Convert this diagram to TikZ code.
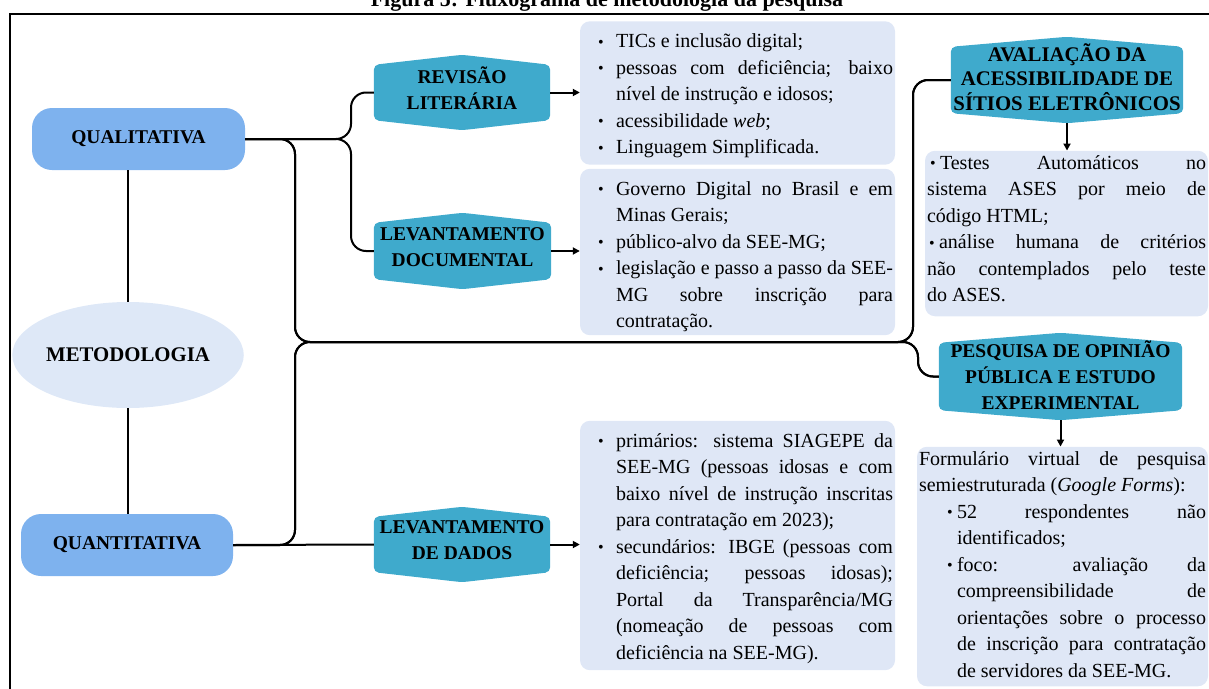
\documentclass[tikz,border=0pt]{standalone}
\usepackage{graphicx}
\usepackage{fontspec}
\setmainfont{Liberation Serif}
\usetikzlibrary{arrows.meta,calc,backgrounds,shapes.geometric}
\definecolor{qcol}{RGB}{126,178,238}
\definecolor{ecol}{RGB}{222,232,247}
\definecolor{hcol}{RGB}{63,170,204}
\definecolor{bcol}{RGB}{223,231,246}
\newcommand{\bl}[1]{\makebox[#1][l]{\raisebox{0.5pt}{\scalebox{0.8}{•}}}}
\newcommand{\itemA}{\par\hangindent=18pt\hangafter=1\noindent\bl{18pt}}
\newcommand{\itemB}{\par\hangindent=10pt\hangafter=1\noindent\bl{10pt}}
\newcommand{\hexbg}[1]{\fill[hcol,rounded corners=5pt] ($(#1.north west)+(0,10)$) -- (#1.north) -- ($(#1.north east)+(0,10)$) -- ($(#1.south east)+(0,-10)$) -- (#1.south) -- ($(#1.south west)+(0,-10)$) -- cycle;}
\begin{document}
\begin{tikzpicture}[x=1pt,y=-1pt,
  conn/.style={line width=2pt, rounded corners=15pt},
  lk/.style={line width=1.5pt},
  arr/.style={line width=2pt,-{Triangle[length=7pt,width=7pt]}},
  pill/.style={fill=qcol, rounded corners=20pt, inner sep=0pt, font=\bfseries\fontsize{19.5}{22}\selectfont},
  hex/.style={inner sep=0pt, align=center, font=\bfseries\fontsize{19.5}{26}\selectfont},
  tbox/.style={fill=bcol, rounded corners=10pt, inner xsep=2pt, inner ysep=0pt, align=justify,
    font={\fontsize{20}{26.5}\selectfont\tolerance=10000 \hyphenpenalty=10000 \exhyphenpenalty=10000 }},
]
\useasboundingbox (0,0) rectangle (1209,688);
% frame and title
\node[anchor=base, font=\bfseries\fontsize{22}{24}\selectfont] (title) at (607,6) {Figura 5: Fluxograma de metodologia da pesquisa};
\draw[line width=2.2pt] (10,692) -- (10,14) -- (1212,14);

% left column
\node[pill, minimum width=213pt, minimum height=62pt] (qual) at (138.5,139) {QUALITATIVA};
\node[ellipse, fill=ecol, inner sep=0pt, minimum width=226pt, minimum height=106pt, font=\bfseries\fontsize{20.8}{24}\selectfont] (met) at (128,355) {METODOLOGIA};
\node[pill, minimum width=212pt, minimum height=62pt] (quan) at (127,545) {QUANTITATIVA};

% hexagon nodes
\node[hex, minimum width=176pt, minimum height=75pt] (rev) at (462,92.5) {REVISÃO\\LITERÁRIA\rule[-8pt]{0pt}{8pt}};
\node[hex, minimum width=177pt, minimum height=76pt] (doc) at (462.5,251) {LEVANTAMENTO\\DOCUMENTAL\rule[-8pt]{0pt}{8pt}};
\node[hex, minimum width=176pt, minimum height=75pt] (dad) at (462,544.5) {LEVANTAMENTO\\DE DADOS\rule[-8pt]{0pt}{8pt}};
\node[hex, minimum width=232pt, minimum height=86pt, font=\bfseries\fontsize{20.8}{24.5}\selectfont] (ava) at (1067,80) {AVALIAÇÃO DA\\ACESSIBILIDADE DE\\SÍTIOS ELETRÔNICOS\rule[-6pt]{0pt}{6pt}};
\node[hex, minimum width=243pt, minimum height=87pt] (pes) at (1060.5,376.5) {PESQUISA DE OPINIÃO\\PÚBLICA E ESTUDO\\EXPERIMENTAL\rule[-2pt]{0pt}{2pt}};

% text boxes (kerns and struts fix the box edges around the text)
\node[tbox, text width=311pt] (b1) at (737.5,93) {%
\kern-8.5pt
{\leftskip=16pt
\itemA \strut TICs e inclusão digital;
\itemA pessoas com deficiência; baixo \linebreak nível de instrução e idosos;
\itemA acessibilidade \textit{web};
\itemA Linguagem Simplificada.\strut\par}\kern3pt};
\node[tbox, text width=311pt] (b2) at (737.5,252) {%
\kern-11pt
{\leftskip=16pt
\itemA \strut Governo Digital no Brasil e em \linebreak Minas Gerais;
\itemA público-alvo da SEE-MG;
\itemA legislação e passo a passo da SEE-\linebreak MG sobre inscrição para \linebreak contratação.\strut\par}\kern-0.5pt};
\node[tbox, text width=311pt] (b3) at (737.5,545.5) {%
\kern-7.5pt
{\leftskip=16pt
\itemA \strut primários: sistema SIAGEPE da \linebreak SEE-MG (pessoas idosas e com \linebreak baixo nível de instrução inscritas \linebreak para contratação em 2023);
\itemA secundários: IBGE (pessoas com \linebreak deficiência; pessoas idosas); \linebreak Portal da Transparência/MG \linebreak (nomeação de pessoas com \linebreak deficiência na SEE-MG).\strut\par}\kern3pt};
\node[tbox, text width=279pt] (b4) at (1066.5,233.5) {%
\kern1pt
\noindent\hspace*{2pt}\bl{10pt}\strut Testes Automáticos no \linebreak sistema ASES por meio de \linebreak código HTML;\par
\noindent\hspace*{2pt}\bl{10pt}análise humana de critérios \linebreak não contemplados pelo teste \linebreak do ASES.\strut\par\kern6.5pt};
\node[tbox, text width=287pt] (b5) at (1062.5,566.5) {%
\kern0pt
\noindent\strut Formulário virtual de pesquisa \linebreak semiestruturada (\textit{Google Forms}):\par
{\leftskip=28pt
\itemB 52 respondentes não \linebreak identificados;
\itemB foco: avaliação da \linebreak compreensibilidade de \linebreak orientações sobre o processo \linebreak de inscrição para contratação \linebreak de servidores da SEE-MG.\strut\par}\kern1pt};

% hexagon fills
\begin{scope}[on background layer]
\hexbg{rev}
\hexbg{doc}
\hexbg{dad}
\hexbg{ava}
\hexbg{pes}
\end{scope}

% connectors
\coordinate (lb) at (351,0);
\coordinate (qa) at (295,342);
\coordinate (ru) at (913,0);
\coordinate (rd) at (918,0);
\draw[lk] (met.north |- qual.south) -- (met.north);
\draw[lk] (met.south) -- (met.south |- quan.north);
\draw[conn] (qual.east) -| (lb |- rev.west) -- (rev.west);
\draw[conn] (qual.east) -| (lb |- doc.west) -- (doc.west);
\draw[conn] (qual.east) -| (qa) -- (qa -| ru) |- (ava.west);
\draw[conn] (qual.east) -| (qa) -- (qa -| rd) |- (pes.west);
\draw[conn] (quan.east) -| (qa) -- (qa -| ru) |- (ava.west);
\draw[conn] (quan.east) -| (qa) -- (qa -| rd) |- (pes.west);
\draw[conn] (quan.east) -- (dad.west);
\draw[arr] (rev.east) -- (rev.east -| b1.west);
\draw[arr] (doc.east) -- (doc.east -| b2.west);
\draw[arr] (dad.east) -- (dad.east -| b3.west);
\draw[arr] (ava.south) -- (ava.south |- b4.north);
\draw[arr] (pes.south) -- (pes.south |- b5.north);
\end{tikzpicture}
\end{document}
